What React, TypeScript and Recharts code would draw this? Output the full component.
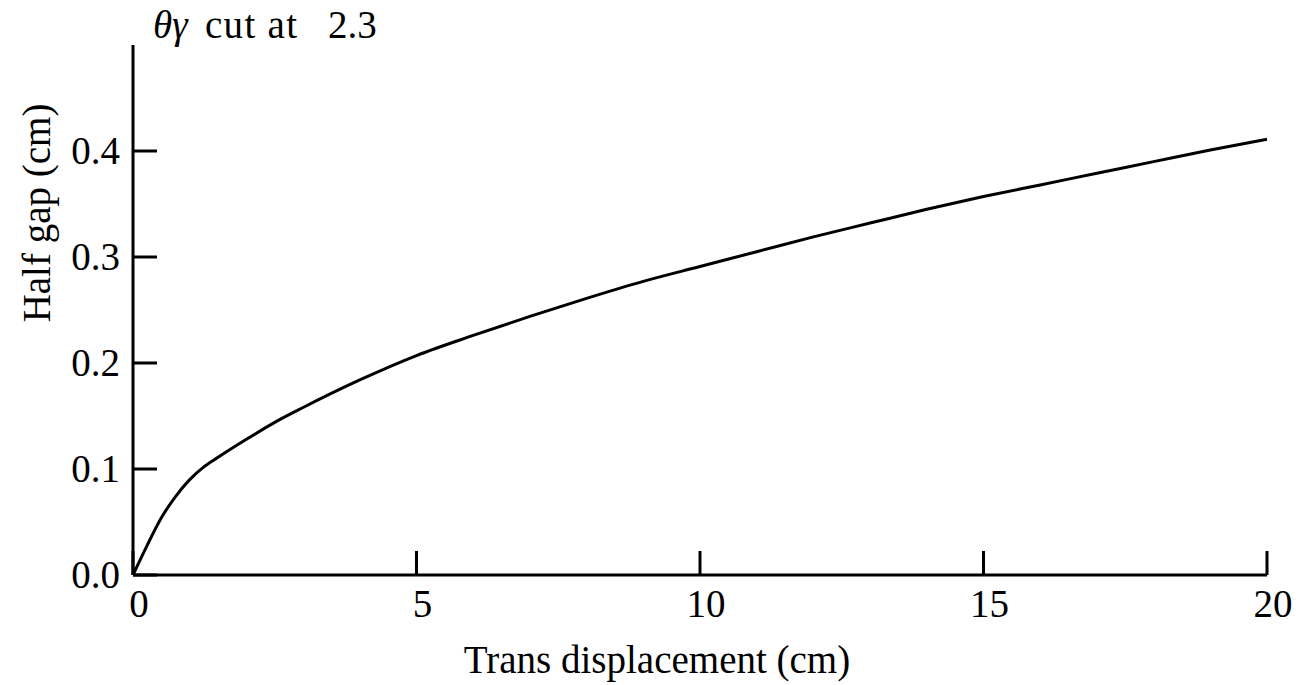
import React from 'react';
import { LineChart, Line, XAxis, YAxis } from 'recharts';

const xValues = [0, 0.25, 0.5, 0.75, 1, 1.25, 1.5, 2, 2.5, 3, 4, 5, 6, 7, 8, 9, 10, 11, 12, 13, 14, 15, 16, 17, 18, 19, 20];
const halfGap = [0, 0.028, 0.054, 0.074, 0.09, 0.102, 0.111, 0.128, 0.144, 0.158, 0.184, 0.207, 0.226, 0.244, 0.261, 0.277, 0.291, 0.305, 0.319, 0.332, 0.345, 0.357, 0.368, 0.379, 0.39, 0.401, 0.411];
const xTicks = [0, 5, 10, 15, 20];
const yTicks = [0, 0.1, 0.2, 0.3, 0.4];
const titleSymbol = 'θγ';
const titleWords = 'cut at';
const titleValue = '2.3';
const xLabel = 'Trans displacement (cm)';
const yLabel = 'Half gap (cm)';

const data = xValues.map((x, i) => ({ x, y: halfGap[i] }));

const FONT = '"Liberation Serif", "Times New Roman", serif';
const FS = 39;

const XTick = (props: any) => {
  const { x, y, payload } = props;
  return (
    <g>
      <line x1={x} y1={y} x2={x} y2={y - 24} stroke="#000" strokeWidth={3} />
      <text x={x + 6} y={y + 42} textAnchor="middle" fontFamily={FONT} fontSize={FS} fill="#000">
        {payload.value}
      </text>
    </g>
  );
};

const YTick = (props: any) => {
  const { x, y, payload } = props;
  return (
    <g>
      <line x1={x} y1={y} x2={x + 24} y2={y} stroke="#000" strokeWidth={3} />
      <text x={x - 13} y={y + 13} textAnchor="end" fontFamily={FONT} fontSize={FS} fill="#000">
        {Number(payload.value).toFixed(1)}
      </text>
    </g>
  );
};

export default function App() {
  return (
    <div style={{ position: 'absolute', left: 0, top: 0, width: 1310, height: 685, background: '#fff' }}>
      <LineChart width={1310} height={685} data={data} margin={{ top: 45, right: 43, bottom: 50, left: 73 }}>
        <XAxis
          dataKey="x"
          type="number"
          domain={[0, 20]}
          ticks={xTicks}
          height={60}
          tickSize={0}
          tickMargin={0}
          tickLine={false}
          axisLine={{ stroke: '#000', strokeWidth: 3 }}
          tick={<XTick />}
          interval={0}
        />
        <YAxis
          type="number"
          domain={[0, 0.5]}
          ticks={yTicks}
          width={60}
          tickSize={0}
          tickMargin={0}
          tickLine={false}
          axisLine={{ stroke: '#000', strokeWidth: 3 }}
          tick={<YTick />}
          interval={0}
        />
        <Line dataKey="y" type="monotone" stroke="#000" strokeWidth={3} dot={false} isAnimationActive={false} />
      </LineChart>
      <svg width={1310} height={685} style={{ position: 'absolute', left: 0, top: 0, pointerEvents: 'none' }}>
        <text x={153} y={38} fontFamily={FONT} fontSize={FS} fill="#000" fontStyle="italic">
          {titleSymbol}
        </text>
        <text x={205} y={38} fontFamily={FONT} fontSize={FS} fill="#000" textLength={92} lengthAdjust="spacing">
          {titleWords}
        </text>
        <text x={328} y={38} fontFamily={FONT} fontSize={FS} fill="#000">
          {titleValue}
        </text>
        <text x={657} y={673} textAnchor="middle" fontFamily={FONT} fontSize={FS} fill="#000">
          {xLabel}
        </text>
        <text
          x={0}
          y={0}
          transform="translate(50,213) rotate(-90)"
          textAnchor="middle"
          fontFamily={FONT}
          fontSize={FS}
          fill="#000"
        >
          {yLabel}
        </text>
      </svg>
    </div>
  );
}
